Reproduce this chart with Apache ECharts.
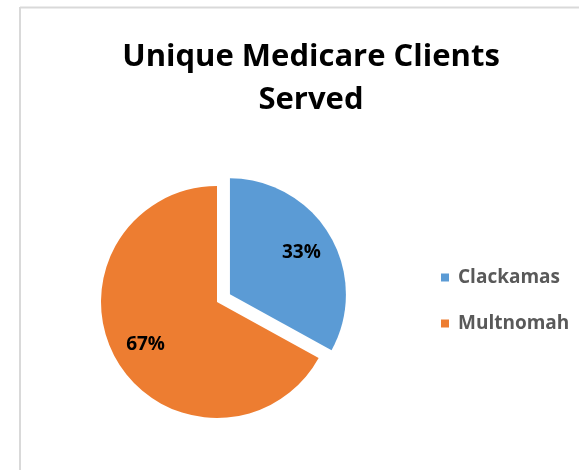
<!DOCTYPE html>
<html>
<head>
<meta charset="utf-8">
<script src="https://cdn.jsdelivr.net/npm/echarts@6/dist/echarts.min.js"></script>
<style>
html,body{margin:0;padding:0;background:#fff;}
#chart{width:579px;height:470px;}
</style>
</head>
<body>
<div id="chart"></div>
<script>
var titleText = 'Unique Medicare Clients\nServed';
var categories = ['Clackamas', 'Multnomah'];
var values = [33, 67];
var colors = ['#5b9bd5', '#ed7d31'];
var explodedIndex = 0;

var total = values.reduce(function (a, b) { return a + b; }, 0);
var FONT = '"Open Sans", "Liberation Sans", sans-serif';

var pieData = categories.map(function (c, i) {
  return { name: c, value: values[i], selected: i === explodedIndex, itemStyle: { color: colors[i] } };
});
var labelData = categories.map(function (c, i) {
  return { name: c, value: values[i], selected: i === explodedIndex };
});

var chart = echarts.init(document.getElementById('chart'), null, { renderer: 'canvas' });
chart.setOption({
  backgroundColor: '#ffffff',
  animation: false,
  title: {
    text: titleText,
    left: 311,
    top: 36,
    padding: 0,
    textAlign: 'center',
    textStyle: { fontFamily: FONT, fontWeight: 'bold', fontSize: 31, lineHeight: 43, color: '#000000' }
  },
  legend: {
    orient: 'vertical',
    left: 441,
    top: 268,
    padding: 0,
    itemWidth: 8,
    itemHeight: 8,
    itemGap: 27,
    icon: 'rect',
    data: categories,
    selectedMode: false,
    textStyle: { fontFamily: FONT, fontWeight: 'bold', fontSize: 19, color: '#595959', padding: [0, 0, 0, 4] }
  },
  graphic: [
    { type: 'line', shape: { x1: 20, y1: 7.5, x2: 579, y2: 7.5 }, style: { stroke: '#d9d9d9', lineWidth: 2 }, silent: true },
    { type: 'line', shape: { x1: 20, y1: 7, x2: 20, y2: 470 }, style: { stroke: '#d9d9d9', lineWidth: 2 }, silent: true }
  ],
  series: [
    {
      type: 'pie',
      center: [217, 302],
      radius: [0, 116],
      startAngle: 90,
      clockwise: true,
      selectedMode: 'single',
      selectedOffset: 15,
      silent: true,
      label: { show: false },
      labelLine: { show: false },
      emphasis: { disabled: true },
      data: pieData
    },
    {
      type: 'pie',
      center: [217, 302],
      radius: [0, 160],
      startAngle: 90,
      clockwise: true,
      selectedMode: 'single',
      selectedOffset: 15,
      silent: true,
      z: 3,
      itemStyle: { color: 'rgba(0,0,0,0)', borderWidth: 0 },
      emphasis: { disabled: true },
      label: {
        show: true,
        position: 'inside',
        fontFamily: FONT,
        fontWeight: 'bold',
        fontSize: 19,
        color: '#000000',
        formatter: function (p) { return Math.round(p.value / total * 100) + '%'; }
      },
      labelLine: { show: false },
      data: labelData
    }
  ]
});
</script>
</body>
</html>
